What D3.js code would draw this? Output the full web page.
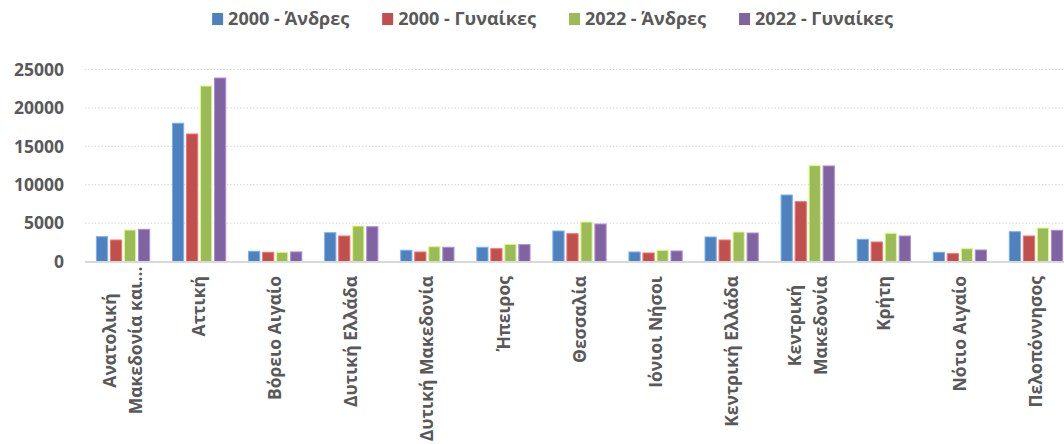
<!DOCTYPE html>
<html><head><meta charset="utf-8">
<script src="https://cdn.jsdelivr.net/npm/d3@7"></script>
<style>body{margin:0;background:#fff}svg{display:block}</style>
</head><body>
<script>
const categories = [
  ["Ανατολική","Μακεδονία και…"], ["Αττική"], ["Βόρειο Αιγαίο"], ["Δυτική Ελλάδα"],
  ["Δυτική Μακεδονία"], ["Ήπειρος"], ["Θεσσαλία"], ["Ιόνιοι Νήσοι"], ["Κεντρική Ελλάδα"],
  ["Κεντρική","Μακεδονία"], ["Κρήτη"], ["Νότιο Αιγαίο"], ["Πελοπόννησος"]
];
const seriesNames = ["2000 - Άνδρες","2000 - Γυναίκες","2022 - Άνδρες","2022 - Γυναίκες"];
const men2000   = [3230, 18000, 1330, 3750, 1460, 1850, 3970, 1240, 3190,  8660, 2890, 1200, 3880];
const women2000 = [2800, 16600, 1200, 3320, 1240, 1670, 3620, 1110, 2800,  7790, 2540, 1020, 3320];
const men2022   = [4100, 22850, 1200, 4620, 1930, 2240, 5140, 1460, 3840, 12480, 3670, 1670, 4360];
const women2022 = [4190, 23890, 1250, 4530, 1850, 2200, 4880, 1370, 3710, 12440, 3320, 1500, 4060];
const yTicks = [0, 5000, 10000, 15000, 20000, 25000];
const colors = ["#4F81BD","#C0504D","#9BBB59","#8064A2"];
const seriesValues = [men2000, women2000, men2022, women2022];

const W = 1064, H = 444;
const FONT = "'Open Sans', sans-serif";
const TXT = "#595959";
const svg = d3.select("body").append("svg").attr("width", W).attr("height", H)
  .style("font-family", FONT);

const x0 = d3.scaleBand().domain(d3.range(categories.length)).range([85, 1074])
  .paddingInner(0.3).paddingOuter(0.15);
const x1 = d3.scaleBand().domain(d3.range(4)).range([0, x0.bandwidth()]).paddingInner(0.2);
const y = d3.scaleLinear().domain([0, 25000]).range([261.5, 69.5]);

// gridlines
svg.append("g").selectAll("line").data(yTicks.filter(d => d > 0)).join("line")
  .attr("x1", 85).attr("x2", W).attr("y1", d => y(d)).attr("y2", d => y(d))
  .attr("stroke", "#d0d0d0").attr("stroke-width", 1).attr("stroke-dasharray", "1.3,2");

// y tick labels
svg.append("g").selectAll("text").data(yTicks).join("text")
  .attr("x", 64).attr("y", d => y(d)).attr("dy", "0.36em").attr("text-anchor", "end")
  .attr("fill", TXT).attr("font-size", 17.5).attr("font-weight", "bold").text(d => d);

// bars
const groups = svg.append("g").selectAll("g").data(categories).join("g")
  .attr("transform", (d, i) => `translate(${x0(i)},0)`);
groups.selectAll("rect").data((d, i) => seriesValues.map((s, k) => ({k, v: s[i]}))).join("rect")
  .attr("x", d => x1(d.k)).attr("width", x1.bandwidth())
  .attr("y", d => y(d.v)).attr("height", d => y(0) - y(d.v))
  .attr("fill", d => colors[d.k])
  .attr("stroke", d => d3.color(colors[d.k]).brighter(0.9)).attr("stroke-width", 1);

// x axis line
svg.append("line").attr("x1", 85).attr("x2", W).attr("y1", 262).attr("y2", 262)
  .attr("stroke", "#d9d9d9").attr("stroke-width", 2);

// x labels
const LH = 25.5, TOP = 276, CAP = 129;
categories.forEach((lines, i) => {
  const cx = x0(i) + x0.bandwidth() / 2;
  const g = svg.append("g");
  const n = lines.length;
  const texts = lines.map(t => g.append("text")
    .attr("fill", TXT).attr("font-size", 17.5).attr("font-weight", "bold").text(t));
  if (n === 1) {
    texts[0].attr("text-anchor", "end").attr("dy", "0.35em")
      .attr("transform", `translate(${cx},${TOP}) rotate(-90)`);
  } else {
    const wMax = d3.max(texts, t => t.node().getComputedTextLength());
    const cy = TOP + Math.min(wMax, CAP) / 2;
    texts.forEach((t, j) => {
      const lx = cx + (j - (n - 1) / 2) * LH;
      t.attr("text-anchor", "middle").attr("dy", "0.35em")
        .attr("transform", `translate(${lx},${cy}) rotate(-90)`);
    });
  }
});

// legend
const leg = svg.append("g");
const items = seriesNames.map((name, k) => {
  const g = leg.append("g");
  g.append("rect").attr("x", 0).attr("y", 13).attr("width", 11).attr("height", 12).attr("fill", colors[k]);
  const t = g.append("text").attr("x", 16).attr("y", 19).attr("dy", "0.35em")
    .attr("fill", TXT).attr("font-size", 18).attr("font-weight", "bold").text(name);
  return {g, w: 16 + t.node().getComputedTextLength()};
});
const gap = 33;
const total = d3.sum(items, d => d.w) + gap * (items.length - 1);
let lx = 552.5 - total / 2;
items.forEach(it => { it.g.attr("transform", `translate(${lx},0)`); lx += it.w + gap; });
</script>
</body></html>
